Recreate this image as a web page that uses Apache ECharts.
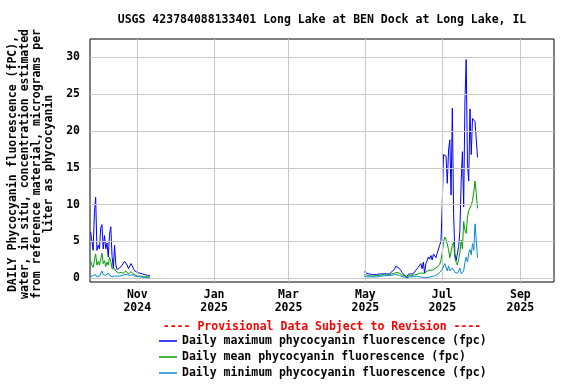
<!DOCTYPE html>
<html>
<head>
<meta charset="utf-8">
<script src="https://cdn.jsdelivr.net/npm/echarts@6/dist/echarts.min.js"></script>
<style>html,body{margin:0;padding:0;background:#fff}#c{width:576px;height:384px}</style>
</head>
<body>
<div id="c"></div>
<script>
// ---- data ----
const fallStart = [2024, 8, 25];   // Sep 25 2024, daily values
const fallMax = [6.3,6.3,3.8,8.9,11.0,3.8,4.5,4.0,6.8,7.3,
  4.0,5.8,4.0,4.8,2.9,6.0,7.0,3.0,1.4,4.5,
  1.8,1.2,1.3,1.4,1.6,1.8,2.0,2.3,2.4,1.8,
  1.3,1.2,2.0,1.7,1.3,1.0,1.1,0.8,0.9,0.7,
  0.7,0.6,0.5,0.5,0.5,0.4,0.4,0.4];
const fallMean = [2.4,1.8,1.5,2.4,3.3,1.8,2.3,1.8,1.9,3.4,
  2.0,2.4,1.6,2.2,1.8,2.9,2.3,1.3,1.1,1.3,
  1.0,0.9,0.7,0.8,0.8,0.7,0.7,0.9,1.0,0.8,
  0.6,0.7,0.9,0.7,0.6,0.5,0.4,0.4,0.3,0.3,
  0.3,0.25,0.2,0.2,0.2,0.2,0.2,0.2];
const fallMin = [0.2,0.3,0.4,0.6,0.5,0.2,0.4,0.3,0.5,1.0,
  0.5,0.3,0.4,0.5,0.7,0.4,0.3,0.2,0.3,0.3,
  0.3,0.3,0.3,0.3,0.4,0.4,0.5,0.5,0.6,0.5,
  0.4,0.4,0.5,0.5,0.4,0.3,0.3,0.25,0.2,0.2,
  0.2,0.15,0.15,0.1,0.1,0.1,0.1,0.1];

const summerStart = [2025, 3, 30]; // Apr 30 2025, daily values
const summerMax = [0.9,1.0,0.7,0.6,0.6,0.5,0.5,0.4,0.5,0.4,
  0.5,0.6,0.6,0.5,0.6,0.6,0.6,0.7,0.6,0.7,
  0.6,0.7,0.9,1.0,1.2,1.6,1.6,1.5,1.45,1.1,
  0.8,0.55,0.45,0.3,0.1,0.55,0.6,0.6,0.65,0.6,
  0.85,1.1,1.3,1.5,1.5,2.0,1.3,2.2,0.7,2.0,
  2.4,2.9,2.6,3.1,2.5,3.3,3.1,2.8,3.4,3.2,
  4.5,5.1,10.1,16.8,16.8,16.6,12.9,17.4,18.8,11.3,
  23.1,8.8,3.4,2.4,2.6,4.3,6.5,13.2,17.2,9.7,
  24.1,29.7,15.5,13.2,23.0,16.8,21.7,21.7,21.3,18.8,16.4];
const summerMean = [0.5,0.6,0.45,0.4,0.35,0.3,0.3,0.35,0.3,0.3,
  0.4,0.4,0.4,0.4,0.45,0.5,0.5,0.5,0.45,0.5,
  0.5,0.55,0.6,0.65,0.7,0.8,0.8,0.75,0.7,0.6,
  0.45,0.4,0.35,0.3,0.2,0.3,0.35,0.4,0.4,0.4,
  0.45,0.5,0.55,0.6,0.7,0.75,0.7,0.85,0.7,0.9,
  1.0,1.1,1.1,1.2,1.1,1.2,1.3,1.4,1.5,1.7,
  1.9,2.5,3.5,4.9,5.6,5.3,5.5,3.9,2.8,3.0,
  4.5,4.9,2.8,2.2,1.8,2.6,3.5,5.2,4.0,7.7,
  6.5,6.1,8.3,9.2,9.4,9.9,10.6,11.7,13.2,11.5,9.5];
const summerMin = [0.3,0.25,0.2,0.2,0.2,0.2,0.2,0.2,0.2,0.2,
  0.2,0.25,0.25,0.3,0.3,0.3,0.35,0.35,0.35,0.35,
  0.4,0.4,0.4,0.45,0.5,0.5,0.5,0.5,0.4,0.3,
  0.25,0.2,0.15,0.1,0.05,0.15,0.2,0.2,0.2,0.2,
  0.25,0.3,0.3,0.25,0.2,0.2,0.15,0.15,0.1,0.1,
  0.1,0.1,0.15,0.2,0.25,0.3,0.35,0.4,0.5,0.6,
  0.8,1.0,1.2,1.4,2.0,2.2,1.0,1.7,1.0,1.2,
  1.4,1.1,0.8,0.6,0.7,1.0,1.4,0.6,0.8,1.0,
  2.2,2.9,2.2,3.4,3.9,3.2,4.7,3.8,7.4,7.6,2.8];

const xTickDates = [[2024,10,1],[2025,0,1],[2025,2,1],[2025,4,1],[2025,6,1],[2025,8,1]];
const xTickLabels = ['Nov\n2024','Jan\n2025','Mar\n2025','May\n2025','Jul\n2025','Sep\n2025'];
const yTicks = [0,5,10,15,20,25,30];

const seriesNames = ['Daily maximum phycocyanin fluorescence (fpc)',
  'Daily mean phycocyanin fluorescence (fpc)',
  'Daily minimum phycocyanin fluorescence (fpc)'];
const seriesColors = ['#0000ff','#00a000','#0a8ad6'];

// ---- build ----
function ts(a, add) { return new Date(a[0], a[1], a[2] + (add || 0)).getTime(); }
function build(fall, summer) {
  const out = [];
  fall.forEach((v, i) => out.push([ts(fallStart, i), v]));
  out.push([ts(fallStart, fall.length), null]);
  summer.forEach((v, i) => out.push([ts(summerStart, i), v]));
  return out;
}
const xTickTimes = xTickDates.map(d => ts(d));
const font = '"DejaVu Sans Mono", monospace';

const chart = echarts.init(document.getElementById('c'), null, {renderer: 'canvas'});
const gridLine = {color: '#c8c8c8', width: 1, type: 'solid'};
chart.setOption({
  animation: false,
  backgroundColor: '#fff',
  grid: {left: 90, right: 22, top: 39, bottom: 102, show: true, borderColor: '#000', borderWidth: 1, containLabel: false},
  xAxis: {
    type: 'value',
    min: new Date(2024, 8, 24, 12).getTime(),
    max: new Date(2025, 8, 27, 16).getTime(),
    axisLine: {show: false}, axisTick: {show: false}, splitLine: {show: false},
    axisLabel: {
      customValues: xTickTimes,
      formatter: (v) => { const k = xTickTimes.indexOf(v); return k >= 0 ? xTickLabels[k] : ''; },
      color: '#000', fontFamily: font, fontWeight: 'bold', fontSize: 11.5, lineHeight: 13, margin: 7,
      hideOverlap: false, showMinLabel: true, showMaxLabel: true
    }
  },
  yAxis: {
    type: 'value', min: -0.5, max: 32.5,
    axisLine: {show: false}, axisTick: {show: false}, splitLine: {show: false},
    axisLabel: {customValues: yTicks, color: '#000', fontFamily: font, fontWeight: 'bold', fontSize: 11.5, margin: 10}
  },
  legend: {
    data: seriesNames.map((n, k) => ({name: n, icon: 'rect', itemStyle: {color: seriesColors[k], borderWidth: 0}})),
    orient: 'vertical', left: 159, top: 335,
    itemWidth: 18, itemHeight: 1.5, itemGap: 4, padding: 0,
    textStyle: {color: '#000', fontFamily: font, fontWeight: 'bold', fontSize: 11.5, lineHeight: 12},
    selectedMode: false
  },
  graphic: [
    {type: 'text', x: 322, y: 20, style: {text: 'USGS 423784088133401 Long Lake at BEN Dock at Long Lake, IL', fill: '#000', font: 'bold 11.5px ' + font, textAlign: 'center', textVerticalAlign: 'middle'}},
    {type: 'text', x: 322, y: 327, style: {text: '---- Provisional Data Subject to Revision ----', fill: '#ff0000', font: 'bold 11.5px ' + font, textAlign: 'center', textVerticalAlign: 'middle'}},
    {type: 'text', x: 31, y: 164, rotation: Math.PI / 2, style: {
      text: 'DAILY Phycocyanin fluorescence (fPC),\nwater, in situ, concentration estimated\nfrom reference material, micrograms per\nliter as phycocyanin',
      fill: '#000', font: 'bold 11.5px ' + font, textAlign: 'center', textVerticalAlign: 'middle', lineHeight: 12}}
  ],
  series: [
    {type: 'line', name: 'grid', data: [], z: 1, silent: true,
     markLine: {silent: true, symbol: 'none', label: {show: false}, lineStyle: gridLine, animation: false,
       data: xTickTimes.map(t => ({xAxis: t})).concat(yTicks.map(v => ({yAxis: v})))}},
  ].concat(seriesNames.map((n, k) => ({
    type: 'line', name: n, symbol: 'none', showSymbol: false, connectNulls: false, z: 3 + k,
    lineStyle: {color: seriesColors[k], width: 1}, itemStyle: {color: seriesColors[k]},
    data: k === 0 ? build(fallMax, summerMax) : k === 1 ? build(fallMean, summerMean) : build(fallMin, summerMin)
  })))
});
</script>
</body>
</html>
